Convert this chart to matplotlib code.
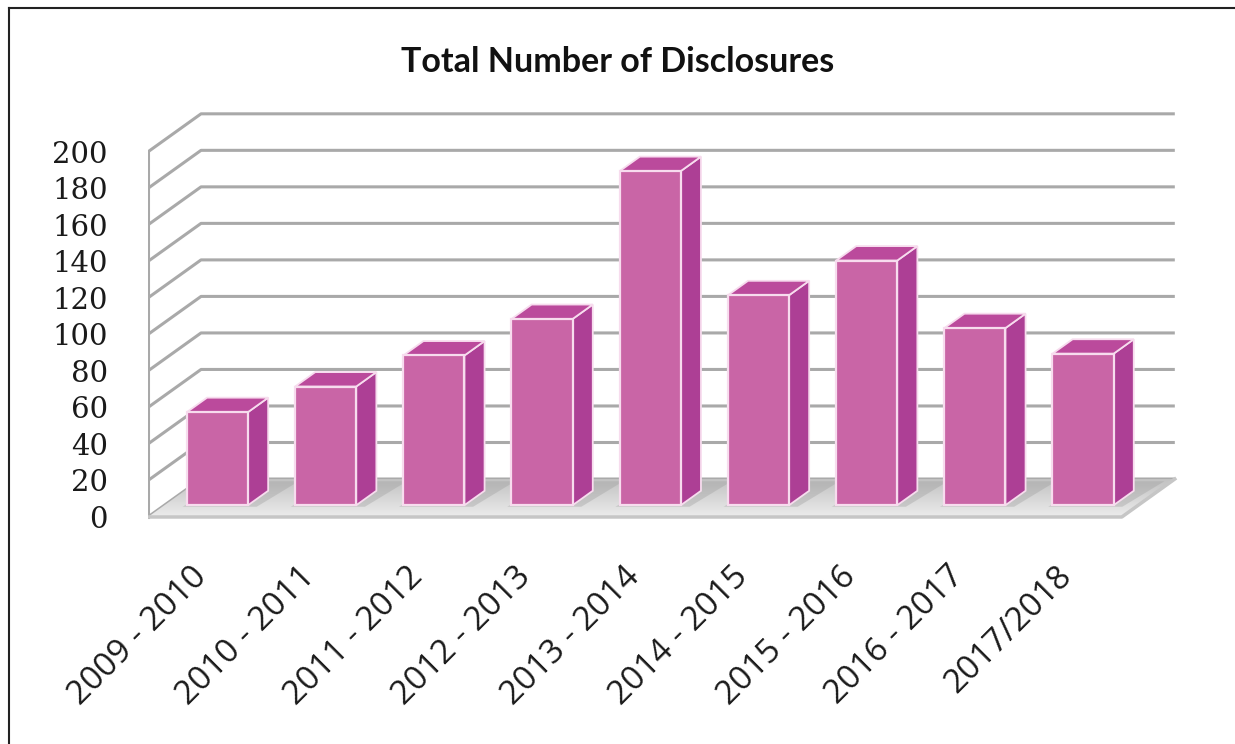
import matplotlib
matplotlib.use("Agg")
import matplotlib.pyplot as plt
import numpy as np
from matplotlib.patches import Polygon
from matplotlib.lines import Line2D

# Data
periods = [
    "2009 - 2010",
    "2010 - 2011",
    "2011 - 2012",
    "2012 - 2013",
    "2013 - 2014",
    "2014 - 2015",
    "2015 - 2016",
    "2016 - 2017",
    "2017/2018",
]
disclosures = [51, 65, 82, 102, 183, 115, 134, 97, 83]
y_ticks = [0, 20, 40, 60, 80, 100, 120, 140, 160, 180, 200]

# Fake 3D geometry (in data units)
DEPTH_DX = 0.49   # horizontal shift from front to back plane
DEPTH_DY = 20.8   # vertical shift from front to back plane
BAR_W = 0.565
BAR_D0, BAR_D1 = 0.31, 0.69
BAR_OFFSET = 0.49

FRONT = "#c965a6"
TOP = "#bb4a9c"
SIDE = "#ad3f95"
EDGE = "#f7dcee"
GRID = "#a9a9a9"


def proj(x, v, d):
    return (x + DEPTH_DX * d, v + DEPTH_DY * d)


W, H = 1235, 744
fig = plt.figure(figsize=(W / 100, H / 100), dpi=100)
ax = fig.add_axes([148 / W, 1 - 525 / H, (1180 - 148) / W, (525 - 100) / H])
n = len(periods)
ax.set_xlim(0, (1180 - 148) / 108.2)
ax.set_ylim((517 - 525) / 1.826, (517 - 100) / 1.826)
for s in ax.spines.values():
    s.set_visible(False)

# walls: gridlines running along the left wall and across the back wall
for v in y_ticks:
    p0 = (0, v)
    p1 = proj(0, v, 1)
    p2 = proj(n, v, 1)
    ax.plot([p0[0], p1[0], p2[0]], [p0[1], p1[1], p2[1]], color=GRID,
            lw=2.2, solid_capstyle="butt", zorder=1)
ax.plot([0, 0], [0, y_ticks[-1]], color=GRID, lw=2.2, zorder=1)

# floor with a soft gradient
floor_pts = [proj(0, 0, 0), proj(n, 0, 0), proj(n, 0, 1), proj(0, 0, 1)]
floor = Polygon(floor_pts, closed=True, facecolor="none", edgecolor="none")
ax.add_patch(floor)
grad = np.linspace(0, 1, 64).reshape(-1, 1)
img = ax.imshow(grad, cmap=matplotlib.colors.LinearSegmentedColormap.from_list(
    "floor", ["#ececec", "#c2c2c2"]), aspect="auto",
    extent=(0, n + DEPTH_DX, 0, DEPTH_DY), origin="lower", zorder=2)
img.set_clip_path(floor)
ax.plot([0, n, n + DEPTH_DX], [0, 0, DEPTH_DY], color="#c6c6c6", lw=2.5,
        zorder=2.5)

# bars
for i, v in enumerate(disclosures):
    xl = i + BAR_OFFSET - BAR_W / 2
    xr = xl + BAR_W
    shadow = [proj(xl - 0.02, 0, BAR_D0 - 0.04), proj(xr + 0.10, 0, BAR_D0 - 0.04),
              proj(xr + 0.16, 0, BAR_D1 + 0.25), proj(xl + 0.05, 0, BAR_D1 + 0.25)]
    ax.add_patch(Polygon(shadow, closed=True, facecolor="#9a9a9a", alpha=0.35,
                         edgecolor="none", zorder=3))
    top = [proj(xl, v, BAR_D0), proj(xr, v, BAR_D0), proj(xr, v, BAR_D1), proj(xl, v, BAR_D1)]
    side = [proj(xr, 0, BAR_D0), proj(xr, v, BAR_D0), proj(xr, v, BAR_D1), proj(xr, 0, BAR_D1)]
    ax.add_patch(Polygon(side, closed=True, facecolor=SIDE, edgecolor=EDGE,
                         lw=1.3, zorder=4))
    ax.add_patch(Polygon(top, closed=True, facecolor=TOP, edgecolor=EDGE,
                         lw=1.3, zorder=4))
ax.bar([i + BAR_OFFSET + DEPTH_DX * BAR_D0 for i in range(n)], disclosures,
       width=BAR_W, bottom=DEPTH_DY * BAR_D0, color=FRONT, edgecolor=EDGE,
       linewidth=1.6, zorder=5)

# axis labels
ax.set_yticks(y_ticks)
ax.set_yticklabels([str(t) for t in y_ticks], family="DejaVu Serif",
                   fontsize=21, color="#1a1a1a")
ax.tick_params(axis="y", length=0, pad=29)
ax.set_xticks([])
for i, label in enumerate(periods):
    ax.text(i + 0.39, -23.5, label, rotation=45, ha="right", va="top",
            rotation_mode="anchor", family="Open Sans", fontsize=24,
            color="#1a1a1a")

fig.text(0.5, 1 - 62 / H, "Total Number of Disclosures", ha="center",
         va="center", family="Lato", fontweight="bold", fontsize=24.5,
         color="#111111")

# outer frame (left and top edges)
fig.add_artist(Line2D([9 / W, 9 / W], [0, 1 - 8 / H], color="#222222", lw=1.5))
fig.add_artist(Line2D([9 / W, 1], [1 - 8 / H, 1 - 8 / H], color="#222222", lw=1.5))

fig.savefig("out.png", dpi=100)
